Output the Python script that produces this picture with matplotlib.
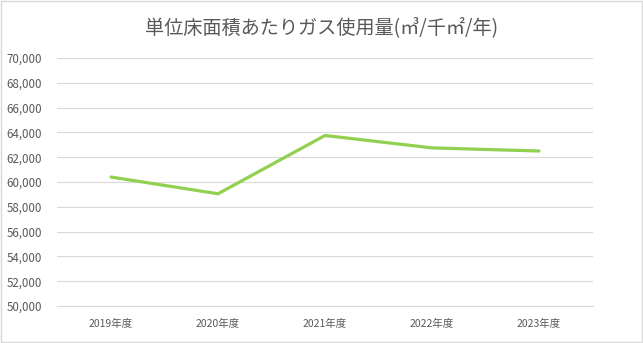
import matplotlib.pyplot as plt
from matplotlib.patches import Rectangle
from matplotlib.ticker import FuncFormatter

plt.rcParams['font.family'] = ['Noto Sans CJK JP', 'DejaVu Sans']

# データ
years = ['2019年度', '2020年度', '2021年度', '2022年度', '2023年度']
gas_use = [60400, 59050, 63750, 62750, 62500]  # ㎥/千㎡/年

fig = plt.figure(figsize=(6.43, 3.43), dpi=100)
ax = fig.add_axes([0.0894, 0.1079, 0.8321, 0.723])

x = range(len(years))
ax.plot(x, gas_use, color='#92D050', linewidth=2.3, solid_capstyle='round')

ax.set_xlim(-0.5, len(years) - 0.5)
ax.set_ylim(50000, 70000)
ax.set_yticks(range(50000, 70001, 2000))
ax.yaxis.set_major_formatter(FuncFormatter(lambda v, p: '{:,.0f}'.format(v)))
ax.set_xticks(list(x))
ax.set_xticklabels(years)

ax.grid(axis='y', color='#D9D9D9', linewidth=0.8)
ax.set_axisbelow(True)
for s in ['top', 'right', 'left']:
    ax.spines[s].set_visible(False)
ax.spines['bottom'].set_color('#D9D9D9')
ax.tick_params(axis='both', length=0, colors='#595959')
ax.tick_params(axis='x', pad=9, labelsize=7.5)
ax.tick_params(axis='y', pad=11, labelsize=8.3)

fig.text(0.5, 0.92, '単位床面積あたりガス使用量(㎥/千㎡/年)', ha='center', va='center',
         fontsize=13.8, color='#595959')

# 枠線
fig.patches.append(Rectangle((0.001, 0.002), 0.997, 0.995, transform=fig.transFigure,
                             fill=False, edgecolor='#D9D9D9', linewidth=1))

fig.savefig('out.png', dpi=100)
